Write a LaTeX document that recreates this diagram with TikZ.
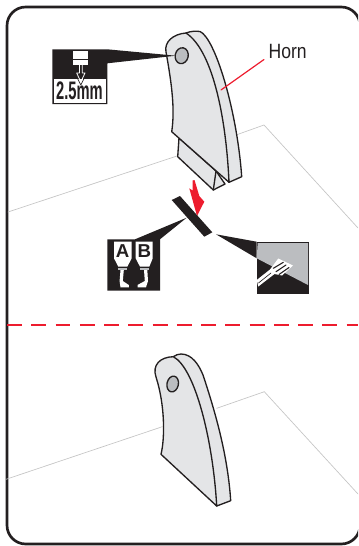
\documentclass[tikz,border=0pt]{standalone}
\usepackage{fontspec}
\setmainfont{Liberation Sans}
\definecolor{hornface}{HTML}{E4E5E7}
\definecolor{holegray}{HTML}{BBBDC0}
\definecolor{planegray}{HTML}{C4C4C4}
\definecolor{markred}{HTML}{ED1C2E}
\definecolor{inkblack}{HTML}{231F20}
\begin{document}
\begin{tikzpicture}[
    x=0.75pt,
    y=-0.75pt,
    line cap=round,
    line join=round,
    hornline/.style={draw=inkblack,fill=hornface,line width=1pt},
    holeline/.style={draw=inkblack,fill=holegray,line width=1pt},
    planeline/.style={draw=planegray,line width=0.5pt},
    ink/.style={fill=inkblack},
    horn label/.style={font=\fontsize{15.5pt}{16pt}\selectfont,xscale=0.85,text=inkblack,inner sep=0pt},
    size label/.style={font=\fontsize{19pt}{20pt}\bfseries\selectfont,xscale=0.58,text=inkblack,inner sep=0pt},
    tube label/.style={font=\fontsize{14pt}{15pt}\bfseries\selectfont,text=inkblack,inner sep=0pt}
]
  \clip (0,0) rectangle (358,546);

  % Panel frame
  \draw[draw=inkblack,line width=2pt,rounded corners=14pt] (7,7) rectangle (360,544);

  % Dashed divider
  \draw[draw=markred,line width=1.5pt,line cap=butt,dash pattern=on 11.2pt off 7pt] (7,325) -- (358,325);

  % Upper plane
  \draw[planeline] (8,212) -- (180,155);
  \draw[planeline] (236,135) -- (264,125) -- (358,228);

  % Upper horn: tab, back, face
  \draw[hornline] (179,138) -- (177.7,156.7) -- (213.3,190) -- (225,184) -- (216,171) -- cycle;
  \draw[hornline] (213.3,190) -- (216,171);
  \draw[hornline] (186,33) .. controls (191,31) and (196,31) .. (200,31.5)
    .. controls (215,38) and (237,110) .. (241.7,176.7) -- (229,182.3) -- cycle;
  \draw[hornline] (171.7,131.7) .. controls (175,110) and (172,85) .. (166,52)
    .. controls (164,42) and (173,34) .. (186,33)
    .. controls (212,50) and (226,115) .. (229,182.3) -- cycle;
  \draw[holeline,rotate around={-12:(181.7,55.7)}] (181.7,55.7) ellipse [x radius=6.5,y radius=8];

  % Horn leader
  \node[horn label] (hornlabel) at (287.7,51.5) {Horn};
  \coordinate (hornpoint) at (221,90);
  \draw[draw=markred,line width=0.9pt] (264,59.5) -- (hornpoint);

  % Hole callout
  \fill[ink] (52.3,49.3) -- (107.3,49.3) -- (175.7,55.7) -- (107.3,63.3) -- (107.3,104) -- (52.3,104) -- cycle;
  \fill[white] (54,78.5) rectangle (105.5,102.5);
  \fill[white] (73.3,51) rectangle (88.3,65);
  \fill[ink] (73.3,59) rectangle (88.3,60.2);
  \draw[draw=white,line width=0.6pt] (79.5,65) -- (79.5,73) -- (76.7,73) -- (80.8,82) -- (85,73) -- (82.2,73) -- (82.2,65);
  \draw[draw=inkblack,line width=0.5pt] (77.5,78.5) -- (80.8,85) -- (84.1,78.5);
  \node[size label] (sizelabel) at (79.5,91) {2.5mm};

  % Red arrow
  \fill[markred] (192.5,180.5) -- (194.5,180) -- (199.3,196) -- (204.3,201.7) -- (197,216) -- (189.3,188.3) -- (192.5,190.5) -- cycle;

  % Adhesive bead
  \fill[ink] (171.7,200) -- (180,196) -- (212.3,232.3) -- (204.3,236.7) -- cycle;

  % Adhesive callout
  \fill[ink] (107.3,239.3) -- (135,239.3) -- (186.7,217.7) -- (160,239.3) -- (160,290.7) -- (107.3,290.7) -- cycle;
  \fill[white] (114,241.7) -- (131.7,241.7) -- (131.7,258.3) -- (127.3,266.7) -- (118.3,266.7) -- (114,258.3) -- cycle;
  \fill[white] (135.7,241.7) -- (152.7,241.7) -- (152.7,258.3) -- (149.3,266.7) -- (140,266.7) -- (135.7,258.3) -- cycle;
  \fill[holegray] (118.3,267.5) rectangle (127.3,270);
  \fill[holegray] (140,267.5) rectangle (149.3,270);
  \fill[white] (120.5,270) -- (123.8,270) -- (122.8,281) -- (128.8,285) -- (128.8,287.3) -- (120.5,287.3) -- (119.6,281) -- cycle;
  \fill[white] (144,270) -- (147.3,270) -- (148,281) -- (146,287.3) -- (137.5,287.3) -- (137.5,285) -- (144.8,281) -- cycle;
  \node[tube label] (tubea) at (122.7,251) {A};
  \node[tube label] (tubeb) at (144.3,251) {B};

  % Scraper callout
  \fill[ink] (216,234.3) -- (256.7,241.7) -- (256.7,258.3) -- cycle;
  \fill[ink] (256.7,241.7) rectangle (309,294);
  \fill[holegray] (257.7,243) -- (308,243) -- (308,285) -- (256.7,258.3) -- cycle;
  \fill[white] (278.3,258.5) -- (293,265.5) -- (282,275.5) -- (274.5,274) -- (258.3,286.5) -- (256.7,280) -- (270,269.5) -- cycle;
  \draw[draw=inkblack,line width=0.5pt] (258.5,283) -- (271,273);
  \draw[draw=inkblack,line width=0.8pt] (273.3,268.3) -- (283.3,262.3) (276,271.7) -- (286,265) (279,274.5) -- (289,267.5);

  % Lower plane
  \draw[planeline] (6,479.3) -- (162.3,426.7);
  \draw[planeline] (216.7,408.3) -- (264.3,391.7) -- (358,494);

  % Lower horn: back, face
  \draw[hornline] (173.3,356.7) .. controls (176,355) and (178,354) .. (181,354)
    .. controls (192,354) and (199,365) .. (203,375)
    .. controls (218,420) and (228,460) .. (230.7,500.7) -- (216.7,506) -- cycle;
  \draw[hornline] (161,454.3) .. controls (165,438) and (165,405) .. (156,377)
    .. controls (152,365) and (160,357) .. (173.3,356.7)
    .. controls (195,368) and (213,440) .. (216.7,506) -- cycle;
  \draw[holeline,rotate around={-12:(172.7,384)}] (172.7,384) ellipse [x radius=5.7,y radius=8];
\end{tikzpicture}
\end{document}
